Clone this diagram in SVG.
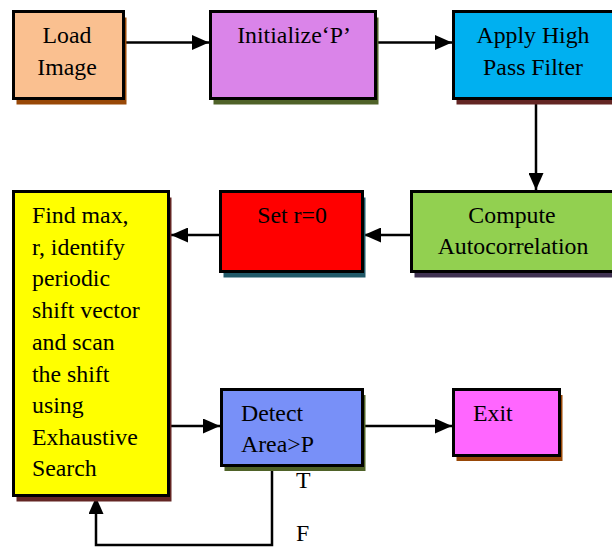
<svg xmlns="http://www.w3.org/2000/svg" width="612" height="547" viewBox="0 0 612 547">
<defs>
<style>
.box{stroke:#000;stroke-width:3}
.t{font-family:"Liberation Serif","Times New Roman",serif;font-size:23.8px;fill:#000}
.c{text-anchor:middle}
.conn{fill:none;stroke:#000;stroke-width:2.5}
</style>
<marker id="ah" markerUnits="userSpaceOnUse" markerWidth="17" markerHeight="15" refX="17" refY="7.5" orient="auto">
<path d="M0,0 L17,7.5 L0,15 z" fill="#000"/>
</marker>
</defs>
<rect width="612" height="547" fill="#fff"/>
<g id="connectors">
<path class="conn" d="M125,42.5 H209" marker-end="url(#ah)"/>
<path class="conn" d="M377,42.5 H452" marker-end="url(#ah)"/>
<path class="conn" d="M536,100 V190" marker-end="url(#ah)"/>
<path class="conn" d="M410,235 H364" marker-end="url(#ah)"/>
<path class="conn" d="M219,235 H171" marker-end="url(#ah)"/>
<path class="conn" d="M170,426 H220" marker-end="url(#ah)"/>
<path class="conn" d="M364,426 H452" marker-end="url(#ah)"/>
<path class="conn" d="M272,467 V545 H96 V497" marker-end="url(#ah)"/>
<text class="t" x="296" y="488">T</text>
<text class="t" x="296" y="541">F</text>
</g>
<g id="load">
<rect x="16.5" y="17.5" width="110" height="87" fill="#984807"/>
<rect class="box" x="13.5" y="11.5" width="110" height="87" fill="#FAC090"/>
<text class="t c" x="67" y="43">Load</text>
<text class="t c" x="67" y="75">Image</text>
</g>
<g id="init">
<rect x="213.5" y="17.5" width="165" height="87" fill="#4F6228"/>
<rect class="box" x="210.5" y="11.5" width="165" height="87" fill="#DA84E9"/>
<text class="t c" x="294" y="43">Initialize‘P’</text>
</g>
<g id="apply">
<rect x="456.5" y="17.5" width="165" height="87" fill="#632523"/>
<rect class="box" x="453.5" y="11.5" width="165" height="87" fill="#00B0F0"/>
<text class="t c" x="533" y="43">Apply High</text>
<text class="t c" x="533" y="75">Pass Filter</text>
</g>
<g id="compute">
<rect x="414.5" y="197.5" width="205" height="80" fill="#3F3151"/>
<rect class="box" x="411.5" y="191.5" width="205" height="80" fill="#92D050"/>
<text class="t c" x="512" y="223">Compute</text>
<text class="t c" x="513" y="254">Autocorrelation</text>
</g>
<g id="setr">
<rect x="223.5" y="197.5" width="142" height="80" fill="#215968"/>
<rect class="box" x="220.5" y="191.5" width="142" height="80" fill="#FF0000"/>
<text class="t c" x="292" y="223">Set r=0</text>
</g>
<g id="find">
<rect x="16.5" y="197.5" width="155" height="304" fill="#632523"/>
<rect class="box" x="13.5" y="191.5" width="155" height="304" fill="#FFFF00"/>
<text class="t" x="32" y="223">Find max,</text>
<text class="t" x="32" y="254.5">r, identify</text>
<text class="t" x="32" y="286">periodic</text>
<text class="t" x="32" y="318">shift vector</text>
<text class="t" x="32" y="350">and scan</text>
<text class="t" x="32" y="382">the shift</text>
<text class="t" x="32" y="413">using</text>
<text class="t" x="32" y="444.5">Exhaustive</text>
<text class="t" x="32" y="476">Search</text>
</g>
<g id="detect">
<rect x="224.5" y="395" width="141" height="76" fill="#4F6228"/>
<rect class="box" x="221.5" y="389.5" width="141" height="76" fill="#7890F8"/>
<text class="t" x="241" y="421">Detect</text>
<text class="t" x="241" y="452">Area&gt;P</text>
</g>
<g id="exit">
<rect x="456.5" y="395" width="106" height="66" fill="#984807"/>
<rect class="box" x="453.5" y="389.5" width="106" height="66" fill="#FF66FF"/>
<text class="t" x="473" y="421">Exit</text>
</g>
</svg>
